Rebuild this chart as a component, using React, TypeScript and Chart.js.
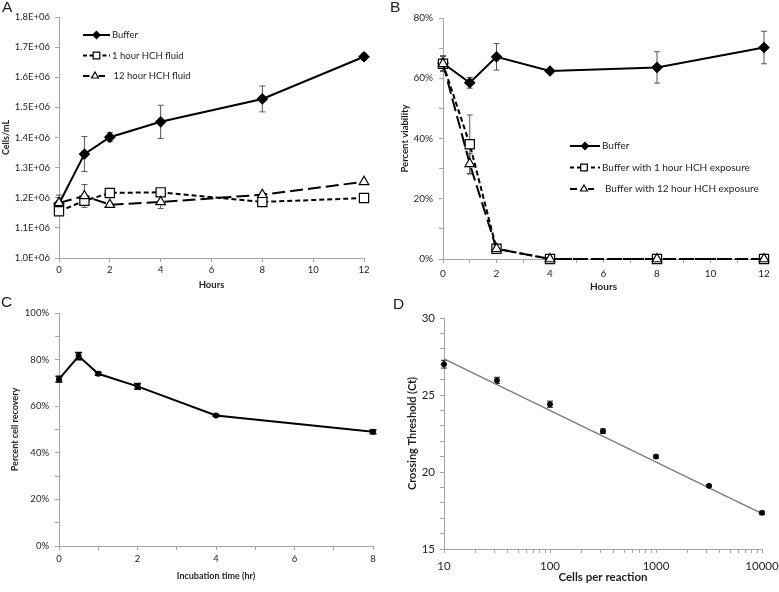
import React, { useEffect, useRef } from 'react';
import { Chart, registerables } from 'chart.js';

Chart.register(...registerables);

const FONT = 'Lato, "Open Sans", "DejaVu Sans", sans-serif';
const TEXT = '#1f1f1f';
const AXIS = '#a5a5a5';

// ---------- Panel A ----------
const hoursA = [0, 1, 2, 4, 8, 12];
const bufferA = [1180000, 1345000, 1401000, 1452000, 1528000, 1668000];
const bufferAErr = [20000, 58000, 15000, 55000, 43000, 10000];
const hch1A = [1155000, 1190000, 1216000, 1218000, 1186000, 1199000];
const hch1AErr = [8000, 15000, 5000, 6000, 5000, 4000];
const hch12A = [1183000, 1206000, 1177000, 1186000, 1210000, 1253000];
const hch12AErr = [26000, 38000, 5000, 22000, 5000, 5000];
const labelsA = ['Buffer', '1 hour HCH fluid', '12 hour HCH fluid'];

// ---------- Panel B ----------
const hoursB = [0, 1, 2, 4, 8, 12];
const bufferB = [65.0, 58.5, 67.1, 62.4, 63.6, 70.2];
const bufferBErr = [2.5, 1.8, 4.4, 0.5, 5.2, 5.4];
const hch1B = [64.8, 38.1, 3.4, 0, 0, 0];
const hch1BErr = [2.5, 9.7, 0.5, 0, 0, 0];
const hch12B = [64.8, 31.6, 3.4, 0, 0, 0];
const hch12BErr = [2.5, 3.4, 0.5, 0, 0, 0];
const labelsB = ['Buffer', 'Buffer with 1 hour HCH exposure', 'Buffer with 12 hour HCH exposure'];

// ---------- Panel C ----------
const timeC = [0, 0.5, 1, 2, 4, 8];
const recoveryC = [71.6, 81.5, 73.9, 68.5, 56.0, 49.0];
const recoveryCErr = [1.2, 1.5, 0.6, 1.2, 0.3, 0.8];

// ---------- Panel D ----------
const cellsD = [10, 31.6, 100, 316, 1000, 3162, 10000];
const ctD = [27.0, 25.95, 24.4, 22.65, 21.0, 19.1, 17.35];
const ctDErr = [0.25, 0.2, 0.2, 0.15, 0.1, 0.08, 0.1];
const trendX = [10, 10000];
const trendY = [27.35, 17.3];
const logTicksD = [10, 20, 30, 40, 50, 60, 70, 80, 90, 100, 200, 300, 400, 500, 600, 700, 800, 900,
  1000, 2000, 3000, 4000, 5000, 6000, 7000, 8000, 9000, 10000];
const majorTicksD = [10, 100, 1000, 10000];

const pts = (xs: number[], ys: number[]) => xs.map((x, i) => ({ x, y: ys[i] }));

Chart.defaults.font.family = FONT;
Chart.defaults.color = TEXT;

const errorBarPlugin = {
  id: 'errorBars',
  beforeDatasetsDraw(chart: any) {
    const ctx = chart.ctx;
    chart.data.datasets.forEach((ds: any, i: number) => {
      const err = ds.errorBars;
      if (!err) return;
      const meta = chart.getDatasetMeta(i);
      const ys = chart.scales[meta.yAxisID];
      ctx.save();
      ctx.setLineDash([]);
      ctx.strokeStyle = ds.errorColor || '#555';
      ctx.lineWidth = ds.errorWidth || 1;
      const cap = ds.errorCap || 3;
      meta.data.forEach((pt: any, j: number) => {
        const e = err[j];
        if (!e) return;
        const v = ds.data[j].y;
        const yT = ys.getPixelForValue(v + e);
        const yB = ys.getPixelForValue(v - e);
        ctx.beginPath();
        ctx.moveTo(pt.x, yT); ctx.lineTo(pt.x, yB);
        ctx.moveTo(pt.x - cap, yT); ctx.lineTo(pt.x + cap, yT);
        ctx.moveTo(pt.x - cap, yB); ctx.lineTo(pt.x + cap, yB);
        ctx.stroke();
      });
      ctx.restore();
    });
  },
};

function drawMarker(ctx: CanvasRenderingContext2D, style: string, x: number, y: number, r: number,
  fill: string, stroke: string, bw: number) {
  ctx.beginPath();
  if (style === 'rectRot') {
    ctx.moveTo(x - r, y); ctx.lineTo(x, y - r); ctx.lineTo(x + r, y); ctx.lineTo(x, y + r); ctx.closePath();
  } else if (style === 'rect') {
    const s = r * Math.SQRT1_2;
    ctx.rect(x - s, y - s, 2 * s, 2 * s);
  } else if (style === 'triangle') {
    ctx.moveTo(x, y - r);
    ctx.lineTo(x + r * 0.866, y + r * 0.5);
    ctx.lineTo(x - r * 0.866, y + r * 0.5);
    ctx.closePath();
  } else {
    ctx.arc(x, y, r, 0, Math.PI * 2);
  }
  ctx.fillStyle = fill;
  ctx.fill();
  ctx.setLineDash([]);
  ctx.lineWidth = bw;
  ctx.strokeStyle = stroke;
  ctx.stroke();
}

// legend sample geometry per row: [lineStart, lineEnd, markerX, dash, textX]
const legendPlugin = {
  id: 'customLegend',
  afterDraw(chart: any, _args: any, opts: any) {
    if (!opts || !opts.show) return;
    const ctx: CanvasRenderingContext2D = chart.ctx;
    chart.data.datasets.forEach((ds: any, i: number) => {
      const y = opts.y0 + i * opts.gap;
      const row = opts.rows[i];
      ctx.save();
      ctx.strokeStyle = ds.borderColor;
      ctx.lineWidth = ds.borderWidth;
      ctx.setLineDash(row[3]);
      ctx.beginPath();
      ctx.moveTo(row[0], y);
      ctx.lineTo(row[1], y);
      ctx.stroke();
      drawMarker(ctx, ds.pointStyle, row[2], y, ds.pointRadius * 0.72,
        ds.pointBackgroundColor, ds.pointBorderColor, ds.pointBorderWidth);
      ctx.fillStyle = TEXT;
      ctx.font = `${opts.fontSize}px ${FONT}`;
      ctx.textBaseline = 'middle';
      ctx.textAlign = 'left';
      ctx.fillText(ds.label, row[4], y);
      ctx.restore();
    });
  },
};

const fixScale = (size: number, horizontal: boolean) => (scale: any) => {
  if (horizontal) scale.height = size; else scale.width = size;
  scale.paddingLeft = 0; scale.paddingRight = 0; scale.paddingTop = 0; scale.paddingBottom = 0;
};

const gridOpts = { drawOnChartArea: false, tickLength: 4, color: AXIS };
const borderOpts = { color: AXIS, width: 1 };

function lineSet(label: string, xs: number[], ys: number[], err: number[], kind: number) {
  const base: any = {
    label,
    data: pts(xs, ys),
    borderColor: '#000',
    backgroundColor: '#000',
    borderWidth: 2,
    tension: 0,
    clip: false,
    errorBars: err,
    errorColor: '#555',
    errorWidth: 1,
    errorCap: 3,
    pointBorderColor: '#000',
    pointBorderWidth: 1.2,
    order: 2 - kind,
  };
  if (kind === 0) {
    Object.assign(base, { pointStyle: 'rectRot', pointRadius: 5, pointBackgroundColor: '#000' });
  } else if (kind === 1) {
    Object.assign(base, { pointStyle: 'rect', pointRadius: 6.5, pointBackgroundColor: '#fff', borderDash: [5, 3] });
  } else {
    Object.assign(base, { pointStyle: 'triangle', pointRadius: 5.5, pointBackgroundColor: '#fff', borderDash: [13, 5] });
  }
  return base;
}

function configA(): any {
  return {
    type: 'line',
    data: {
      datasets: [
        lineSet(labelsA[0], hoursA, bufferA, bufferAErr, 0),
        lineSet(labelsA[1], hoursA, hch1A, hch1AErr, 1),
        lineSet(labelsA[2], hoursA, hch12A, hch12AErr, 2),
      ],
    },
    plugins: [errorBarPlugin, legendPlugin],
    options: {
      animation: false,
      responsive: false,
      layout: { padding: { left: 0, top: 17, right: 26, bottom: 0 } },
      plugins: {
        legend: { display: false },
        tooltip: { enabled: false },
        customLegend: {
          show: true, y0: 35, gap: 20.5, fontSize: 9.5,
          rows: [[83, 110, 96.5, [], 112], [83, 110, 96.5, [4, 2.5], 112], [83, 105, 95, [6.5, 9], 113.5]],
        },
      },
      scales: {
        x: {
          type: 'linear', min: 0, max: 12,
          afterFit: fixScale(38, true),
          ticks: { stepSize: 2, color: TEXT, font: { size: 9.5 }, padding: 2.3, maxRotation: 0, autoSkip: false },
          grid: gridOpts, border: borderOpts,
          title: { display: true, text: 'Hours', color: TEXT, font: { size: 9.5, weight: 'bold' }, padding: { top: 0, bottom: 5.3 } },
        },
        y: {
          type: 'linear', min: 1000000, max: 1800000,
          afterFit: fixScale(59, false),
          ticks: { stepSize: 100000, color: TEXT, font: { size: 9.5 }, padding: 5, autoSkip: false,
            callback: (v: number) => (v / 1000000).toFixed(1) + 'E+06' },
          grid: gridOpts, border: borderOpts,
          title: { display: true, text: 'Cells/mL', color: TEXT, font: { size: 9, weight: 'bold' }, padding: { top: 0.6, bottom: 0 } },
        },
      },
    },
  };
}

function configB(): any {
  return {
    type: 'line',
    data: {
      datasets: [
        lineSet(labelsB[0], hoursB, bufferB, bufferBErr, 0),
        lineSet(labelsB[1], hoursB, hch1B, hch1BErr, 1),
        lineSet(labelsB[2], hoursB, hch12B, hch12BErr, 2),
      ],
    },
    plugins: [errorBarPlugin, legendPlugin],
    options: {
      animation: false,
      responsive: false,
      layout: { padding: { left: 0, top: 18, right: 15, bottom: 0 } },
      plugins: {
        legend: { display: false },
        tooltip: { enabled: false },
        customLegend: {
          show: true, y0: 146, gap: 21.5, fontSize: 10,
          rows: [[180, 210, 195, [], 212], [180, 210, 194, [4, 3], 212], [180, 204, 194, [7, 11], 215]],
        },
      },
      scales: {
        x: {
          type: 'linear', min: 0, max: 12,
          afterFit: fixScale(37, true),
          ticks: { stepSize: 1, color: TEXT, font: { size: 10 }, padding: 5, maxRotation: 0, autoSkip: false,
            callback: (v: number) => (v % 2 === 0 ? String(v) : '') },
          grid: gridOpts, border: borderOpts,
          title: { display: true, text: 'Hours', color: TEXT, font: { size: 10, weight: 'bold' }, padding: { top: 0, bottom: 3 } },
        },
        y: {
          type: 'linear', min: 0, max: 80,
          afterFit: fixScale(53, false),
          ticks: { stepSize: 10, color: TEXT, font: { size: 10 }, padding: 6, autoSkip: false,
            callback: (v: number) => (v % 20 === 0 ? v + '%' : '') },
          grid: gridOpts, border: borderOpts,
          title: { display: true, text: 'Percent viability', color: TEXT, font: { size: 9.5, weight: 'bold' }, padding: { top: 9.3, bottom: 0 } },
        },
      },
    },
  };
}

function configC(): any {
  return {
    type: 'line',
    data: {
      datasets: [
        {
          label: 'Recovery',
          data: pts(timeC, recoveryC),
          borderColor: '#000',
          backgroundColor: '#000',
          borderWidth: 2,
          tension: 0,
          clip: false,
          pointStyle: 'circle',
          pointRadius: 2,
          pointBackgroundColor: '#000',
          pointBorderColor: '#000',
          errorBars: recoveryCErr,
          errorColor: '#000',
          errorWidth: 1.6,
          errorCap: 3.5,
        },
      ],
    },
    plugins: [errorBarPlugin],
    options: {
      animation: false,
      responsive: false,
      layout: { padding: { left: 0, top: 17, right: 17, bottom: 0 } },
      plugins: { legend: { display: false }, tooltip: { enabled: false } },
      scales: {
        x: {
          type: 'linear', min: 0, max: 8,
          afterFit: fixScale(46, true),
          ticks: { stepSize: 1, color: TEXT, font: { size: 9.5 }, padding: 3.3, maxRotation: 0, autoSkip: false,
            callback: (v: number) => (v % 2 === 0 ? String(v) : '') },
          grid: gridOpts, border: borderOpts,
          title: { display: true, text: 'Incubation time (hr)', color: TEXT, font: { size: 9, weight: 'bold' }, padding: { top: 0, bottom: 10.6 } },
        },
        y: {
          type: 'linear', min: 0, max: 100,
          afterFit: fixScale(59, false),
          ticks: { stepSize: 10, color: TEXT, font: { size: 9.5 }, padding: 6, autoSkip: false,
            callback: (v: number) => (v % 20 === 0 ? v + '%' : '') },
          grid: gridOpts, border: borderOpts,
          title: { display: true, text: 'Percent cell recovery', color: TEXT, font: { size: 9, weight: 'bold' }, padding: { top: 9.6, bottom: 0 } },
        },
      },
    },
  };
}

function configD(): any {
  return {
    type: 'scatter',
    data: {
      datasets: [
        {
          label: 'Ct',
          data: pts(cellsD, ctD),
          borderColor: '#000',
          backgroundColor: '#000',
          pointStyle: 'circle',
          pointRadius: 2.5,
          pointBackgroundColor: '#000',
          pointBorderColor: '#000',
          clip: false,
          errorBars: ctDErr,
          errorColor: '#222',
          errorWidth: 1,
          errorCap: 3,
        },
        {
          label: 'Trend',
          data: pts(trendX, trendY),
          showLine: true,
          borderColor: '#7a7a7a',
          backgroundColor: '#7a7a7a',
          borderWidth: 1.3,
          pointRadius: 0,
          clip: false,
        },
      ],
    },
    plugins: [errorBarPlugin],
    options: {
      animation: false,
      responsive: false,
      layout: { padding: { left: 0, top: 22, right: 17, bottom: 0 } },
      plugins: { legend: { display: false }, tooltip: { enabled: false } },
      scales: {
        x: {
          type: 'logarithmic', min: 10, max: 10000,
          afterFit: fixScale(43, true),
          afterBuildTicks: (scale: any) => { scale.ticks = logTicksD.map((value) => ({ value })); },
          ticks: { color: TEXT, font: { size: 11.5 }, padding: 6.1, maxRotation: 0, autoSkip: false,
            callback: (v: number) => (majorTicksD.includes(v) ? String(v) : '') },
          grid: gridOpts, border: borderOpts,
          title: { display: true, text: 'Cells per reaction', color: TEXT, font: { size: 11.5, weight: 'bold' }, padding: { top: 0, bottom: 8.1 } },
        },
        y: {
          type: 'linear', min: 15, max: 30,
          afterFit: fixScale(54, false),
          ticks: { stepSize: 1, color: TEXT, font: { size: 11.5 }, padding: 5, autoSkip: false,
            callback: (v: number) => (v % 5 === 0 ? String(v) : '') },
          grid: gridOpts, border: borderOpts,
          title: { display: true, text: 'Crossing Threshold (Ct)', color: TEXT, font: { size: 11, weight: 'bold' }, padding: { top: 15.4, bottom: 0 } },
        },
      },
    },
  };
}

function ChartPanel(props: { make: () => any; left: number; top: number; width: number; height: number }) {
  const ref = useRef<HTMLCanvasElement>(null);
  useEffect(() => {
    const chart = new Chart(ref.current as HTMLCanvasElement, props.make());
    return () => chart.destroy();
  }, []);
  return (
    <canvas
      ref={ref}
      width={props.width}
      height={props.height}
      style={{ position: 'absolute', left: props.left, top: props.top, width: props.width, height: props.height, display: 'block' }}
    />
  );
}

const letterStyle = (left: number, top: number): React.CSSProperties => ({
  position: 'absolute',
  left,
  top,
  fontFamily: '"Liberation Sans", Arial, sans-serif',
  fontSize: 15.5,
  lineHeight: '15px',
  color: '#222',
});

export default function App() {
  return (
    <div style={{ position: 'absolute', left: 0, top: 0, width: 779, height: 592, background: '#fff', overflow: 'hidden' }}>
      <ChartPanel make={configA} left={0} top={0} width={390} height={296} />
      <ChartPanel make={configB} left={390} top={0} width={389} height={296} />
      <ChartPanel make={configC} left={0} top={296} width={390} height={296} />
      <ChartPanel make={configD} left={390} top={296} width={389} height={296} />
      <div style={letterStyle(2, -1)}>A</div>
      <div style={letterStyle(390, -1)}>B</div>
      <div style={letterStyle(1, 294)}>C</div>
      <div style={letterStyle(393, 295.5)}>D</div>
    </div>
  );
}
